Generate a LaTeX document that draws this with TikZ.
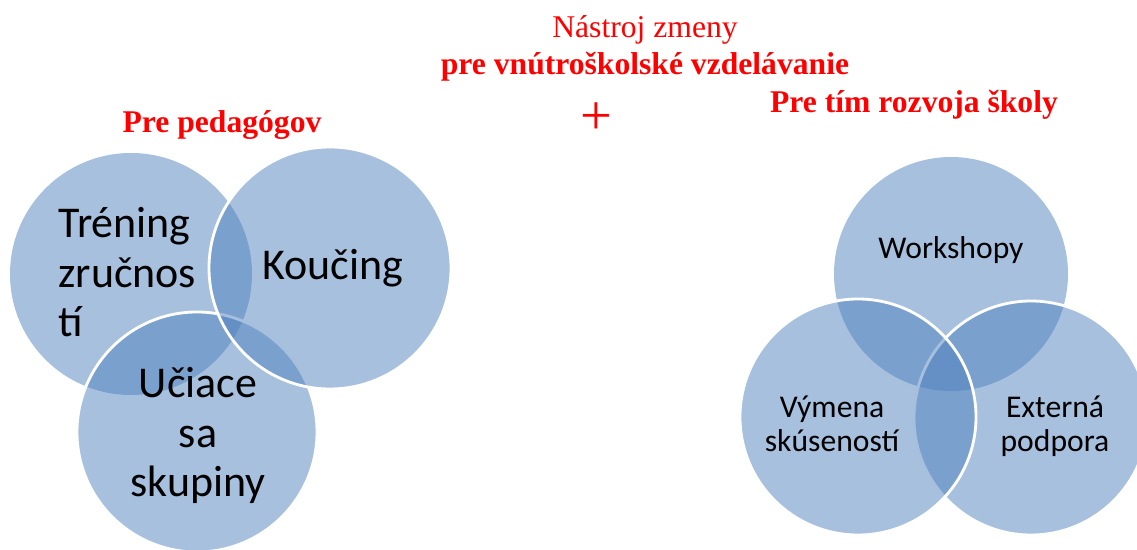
\documentclass[tikz,border=0pt]{standalone}
\usepackage{fontspec}
\setmainfont{Liberation Serif}
\newfontfamily\vennfont{Carlito}
\definecolor{accent}{RGB}{79,129,189}
\definecolor{alert}{RGB}{255,0,0}
\tikzset{
  bubble/.style={fill=accent, fill opacity=0.5},
  rim/.style={draw=white, line width=1.6pt},
  bigtxt/.style={font=\vennfont\fontsize{25}{28.4}\selectfont, inner sep=0pt, anchor=base},
  smalltxt/.style={font=\vennfont\fontsize{18}{19.6}\selectfont, align=center, inner sep=0pt, anchor=base},
  head/.style={text=alert, font=\fontsize{18}{20}\selectfont, inner sep=0pt, anchor=base},
  headb/.style={head, font=\bfseries\fontsize{18}{20}\selectfont},
}

\begin{document}
\begin{tikzpicture}[x=0.02cm, y=-0.02cm]
  \useasboundingbox (0,0) rectangle (1137,550);
  % left group
  \coordinate (tren) at (131,274);
  \coordinate (ucia) at (197,432);
  \coordinate (kouc) at (330,268);
  \fill[bubble] (tren) circle[radius=121];
  \foreach \c/\r in {ucia/120,kouc/121}
    \draw[bubble,rim] (\c) circle[radius=\r];
  % right group
  \coordinate (work) at (951,274);
  \coordinate (exte) at (1031,418);
  \coordinate (vyme) at (858,417);
  \fill[bubble] (work) circle[radius=117];
  \foreach \c/\r in {exte/117,vyme/118}
    \draw[bubble,rim] (\c) circle[radius=\r];

  % texts (multi-line: base is the last line)
  \node[bigtxt, align=left, anchor=base west] (tretxt) at (58,337) {Tréning\\zručnos\\tí};
  \node[bigtxt] (koutxt) at (333,280) {Koučing};
  \node[bigtxt, align=center] (ucitxt) at (198,497) {Učiace\\sa\\skupiny};
  \node[smalltxt] (wortxt) at (951,259) {Workshopy};
  \node[smalltxt] (vymtxt) at (832,452) {Výmena\\skúseností};
  \node[smalltxt] (exttxt) at (1055,452) {Externá\\podpora};

  \node[head] (tool) at (645,38) {Nástroj zmeny};
  \node[headb] (inner) at (645,75) {pre vnútroškolské vzdelávanie};
  \node[text=alert, font=\fontsize{32}{34}\selectfont, inner sep=0pt] (plus) at (596,119) {+};
  \node[headb] (team) at (914,113) {Pre tím rozvoja školy};
  \node[headb] (teach) at (222,133) {Pre pedagógov};
\end{tikzpicture}
\end{document}
